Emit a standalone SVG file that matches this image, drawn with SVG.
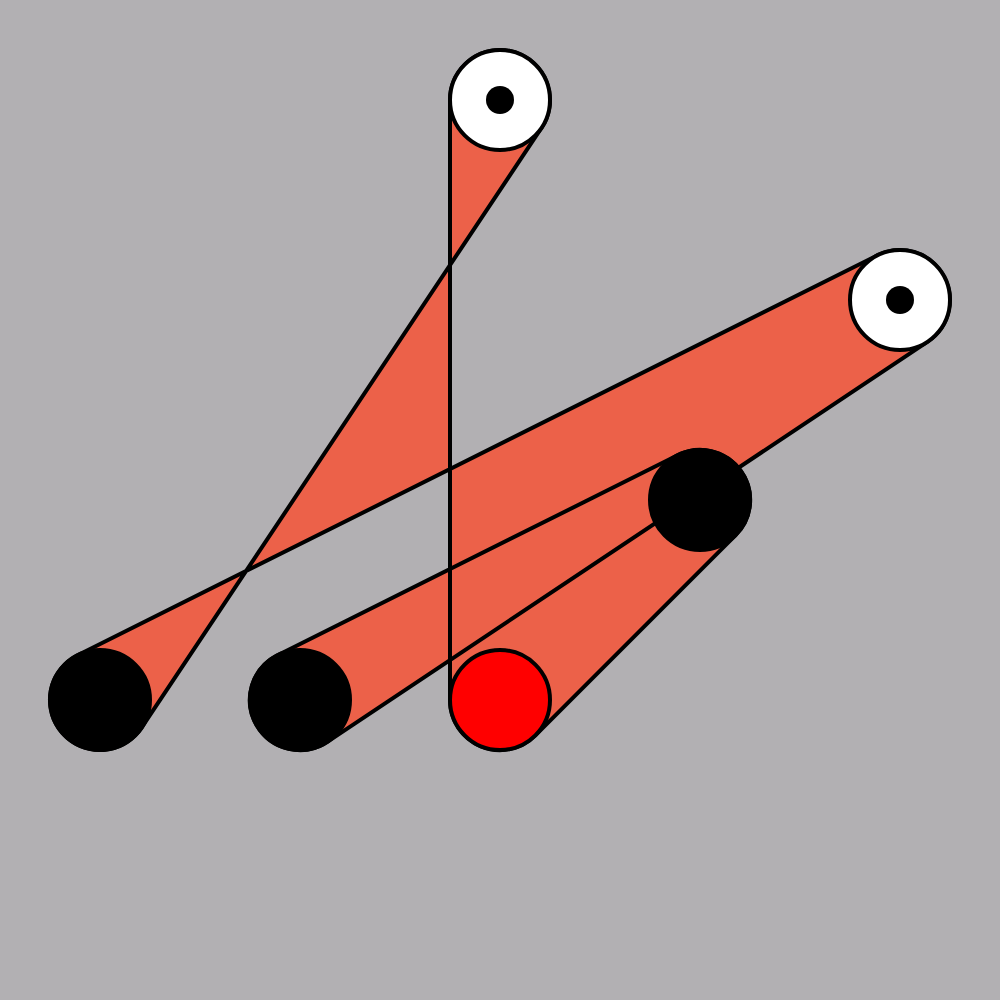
<svg xmlns="http://www.w3.org/2000/svg" width="1000" height="1000" viewBox="0 0 1000 1000">
  <style>
    .belt { fill: #ec6149; stroke: #000; stroke-width: 4; stroke-linejoin: round; fill-rule: nonzero; }
    .pulley { stroke: #000; stroke-width: 4; }
    .idler { fill: #fff; }
    .drive { fill: #000; }
    .motor { fill: #ff0000; }
    .hub { fill: #000; }
  </style>
  <rect x="0" y="0" width="1000" height="1000" fill="#b2b0b3"/>
  <g id="connectors">
    <path class="belt" d="M 450,700 L 450,100 A 50 50 0 1 1 541.6,127.7 L 141.6,727.7 A 50 50 0 1 1 77.6,655.3 L 877.6,255.3 A 50 50 0 0 1 927.7,341.6 L 327.7,741.6 A 50 50 0 1 1 277.6,655.3 L 677.6,455.3 A 50 50 0 0 1 735.4,535.4 L 535.4,735.4 A 50 50 0 0 1 450,700 Z"/>
  </g>
  <g id="pulley-top">
    <circle class="pulley idler" cx="500" cy="100" r="50"/>
    <circle class="hub" cx="500" cy="100" r="14"/>
  </g>
  <g id="pulley-right">
    <circle class="pulley idler" cx="900" cy="300" r="50"/>
    <circle class="hub" cx="900" cy="300" r="14"/>
  </g>
  <g id="pulley-a">
    <circle class="pulley drive" cx="100" cy="700" r="50"/>
  </g>
  <g id="pulley-b">
    <circle class="pulley drive" cx="300" cy="700" r="50"/>
  </g>
  <g id="pulley-c">
    <circle class="pulley drive" cx="700" cy="500" r="50"/>
  </g>
  <g id="pulley-d">
    <circle class="pulley motor" cx="500" cy="700" r="50"/>
  </g>
</svg>
